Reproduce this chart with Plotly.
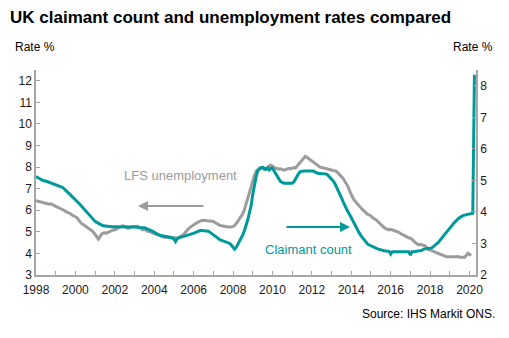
import plotly.graph_objects as go

# Monthly values, January 1998 onwards
start_year = 1998

# LFS unemployment rate (%), left axis
lfs_rate = [
    6.44, 6.42, 6.40, 6.38, 6.36, 6.35, 6.33, 6.30, 6.28, 6.30, 6.25, 6.22,  # 1998
    6.18, 6.15, 6.12, 6.08, 6.04, 6.00, 5.95, 5.92, 5.88, 5.84, 5.78, 5.74,  # 1999
    5.71, 5.65, 5.55, 5.45, 5.36, 5.33, 5.28, 5.22, 5.15, 5.09, 5.05, 4.98,  # 2000
    4.88, 4.75, 4.66, 4.78, 4.90, 4.94, 4.96, 4.94, 4.98, 5.02, 5.05, 5.09,  # 2001
    5.09, 5.14, 5.18, 5.22, 5.26, 5.28, 5.24, 5.20, 5.17, 5.18, 5.22, 5.25,  # 2002
    5.25, 5.22, 5.26, 5.20, 5.15, 5.09, 5.12, 5.06, 5.02, 5.01, 4.98, 4.96,  # 2003
    4.92, 4.88, 4.86, 4.82, 4.80, 4.76, 4.75, 4.74, 4.76, 4.73, 4.72, 4.70,  # 2004
    4.71, 4.72, 4.70, 4.74, 4.78, 4.81, 4.88, 4.98, 5.09, 5.15, 5.22, 5.28,  # 2005
    5.33, 5.38, 5.42, 5.46, 5.50, 5.53, 5.54, 5.53, 5.55, 5.54, 5.53, 5.52,  # 2006
    5.48, 5.43, 5.38, 5.34, 5.30, 5.28, 5.26, 5.24, 5.23, 5.22, 5.22, 5.22,  # 2007
    5.24, 5.30, 5.38, 5.50, 5.62, 5.71, 5.85, 6.05, 6.33, 6.60, 6.85, 7.11,  # 2008
    7.35, 7.60, 7.80, 7.90, 7.96, 7.98, 7.92, 7.88, 7.90, 7.95, 8.05, 8.09,  # 2009
    8.05, 7.98, 7.93, 7.93, 7.90, 7.92, 7.88, 7.86, 7.88, 7.90, 7.94, 7.92,  # 2010
    7.96, 7.98, 7.96, 8.05, 8.15, 8.27, 8.35, 8.45, 8.50, 8.46, 8.40, 8.35,  # 2011
    8.27, 8.22, 8.16, 8.10, 8.04, 8.00, 7.98, 7.96, 7.96, 7.94, 7.92, 7.90,  # 2012
    7.88, 7.86, 7.84, 7.80, 7.72, 7.65, 7.58, 7.48, 7.36, 7.24, 7.10, 6.90,  # 2013
    6.70, 6.57, 6.45, 6.35, 6.26, 6.18, 6.10, 6.02, 5.94, 5.87, 5.81, 5.79,  # 2014
    5.72, 5.65, 5.60, 5.56, 5.48, 5.40, 5.32, 5.25, 5.20, 5.15, 5.10, 5.09,  # 2015
    5.12, 5.09, 5.08, 5.05, 5.02, 4.98, 4.92, 4.89, 4.85, 4.80, 4.76, 4.71,  # 2016
    4.71, 4.66, 4.58, 4.50, 4.45, 4.40, 4.42, 4.40, 4.38, 4.35, 4.26, 4.18,  # 2017
    4.16, 4.14, 4.10, 4.06, 4.03, 4.01, 3.98, 3.95, 3.90, 3.87, 3.85, 3.85,  # 2018
    3.84, 3.86, 3.85, 3.84, 3.85, 3.86, 3.82, 3.81, 3.83, 3.82, 3.90, 4.01,  # 2019
    3.96, 3.90,                                                              # 2020
]

# Claimant count rate (%), right axis
claimant_rate = [
    5.12, 5.10, 5.06, 5.03, 5.00, 4.98, 4.98, 4.96, 4.95, 4.93, 4.91, 4.90,  # 1998
    4.88, 4.86, 4.83, 4.80, 4.78, 4.74, 4.70, 4.64, 4.59, 4.54, 4.48, 4.44,  # 1999
    4.38, 4.33, 4.28, 4.22, 4.17, 4.12, 4.06, 4.00, 3.93, 3.86, 3.80, 3.74,  # 2000
    3.70, 3.67, 3.63, 3.60, 3.58, 3.56, 3.55, 3.54, 3.53, 3.53, 3.53, 3.53,  # 2001
    3.53, 3.54, 3.53, 3.53, 3.54, 3.53, 3.53, 3.52, 3.53, 3.53, 3.53, 3.52,  # 2002
    3.52, 3.52, 3.51, 3.51, 3.50, 3.51, 3.50, 3.48, 3.46, 3.44, 3.42, 3.40,  # 2003
    3.36, 3.32, 3.28, 3.27, 3.25, 3.24, 3.23, 3.22, 3.21, 3.20, 3.20, 3.18,  # 2004
    3.14, 3.06, 3.15, 3.19, 3.20, 3.21, 3.22, 3.24, 3.26, 3.27, 3.29, 3.30,  # 2005
    3.32, 3.34, 3.37, 3.40, 3.41, 3.41, 3.41, 3.41, 3.41, 3.39, 3.35, 3.31,  # 2006
    3.29, 3.24, 3.19, 3.14, 3.12, 3.10, 3.08, 3.07, 3.06, 3.04, 3.00, 2.94,  # 2007
    2.88, 2.82, 2.88, 2.98, 3.06, 3.14, 3.28, 3.42, 3.56, 3.76, 3.98, 4.20,  # 2008
    4.55, 4.85, 5.10, 5.30, 5.36, 5.40, 5.42, 5.38, 5.35, 5.40, 5.33, 5.38,  # 2009
    5.39, 5.30, 5.20, 5.12, 5.04, 4.96, 4.92, 4.91, 4.91, 4.91, 4.91, 4.91,  # 2010
    4.91, 4.95, 5.05, 5.15, 5.22, 5.28, 5.30, 5.30, 5.30, 5.30, 5.30, 5.30,  # 2011
    5.30, 5.30, 5.26, 5.23, 5.22, 5.22, 5.22, 5.21, 5.20, 5.20, 5.15, 5.10,  # 2012
    5.05, 4.98, 4.90, 4.80, 4.70, 4.58, 4.45, 4.33, 4.20, 4.10, 4.00, 3.92,  # 2013
    3.82, 3.70, 3.60, 3.48, 3.40, 3.32, 3.24, 3.17, 3.10, 3.04, 2.98, 2.95,  # 2014
    2.92, 2.90, 2.87, 2.85, 2.83, 2.81, 2.80, 2.78, 2.77, 2.76, 2.75, 2.75,  # 2015
    2.66, 2.74, 2.74, 2.74, 2.74, 2.74, 2.74, 2.74, 2.74, 2.74, 2.74, 2.74,  # 2016
    2.63, 2.74, 2.74, 2.75, 2.75, 2.76, 2.76, 2.78, 2.82, 2.83, 2.84, 2.85,  # 2017
    2.85, 2.86, 2.90, 2.94, 2.97, 3.03, 3.10, 3.16, 3.22, 3.28, 3.35, 3.42,  # 2018
    3.48, 3.55, 3.62, 3.68, 3.75, 3.78, 3.82, 3.86, 3.88, 3.90, 3.91, 3.93,  # 2019
    3.93, 3.95, 3.96, 8.35,                                                  # 2020
]

x_tick_years = list(range(1998, 2021, 2))
left_ticks = list(range(3, 13))
right_ticks = list(range(2, 9))

lfs_x = [start_year + i / 12 for i in range(len(lfs_rate))]
cc_x = [start_year + i / 12 for i in range(len(claimant_rate))]

TEAL = "#00999A"
GREY = "#9C9C9C"
AXIS = "#A6A6A6"
FONT = "Liberation Sans, Arial, sans-serif"

fig = go.Figure()
fig.add_trace(go.Scatter(x=lfs_x, y=lfs_rate, mode="lines", name="LFS unemployment",
                         line=dict(color=GREY, width=3), yaxis="y"))
fig.add_trace(go.Scatter(x=cc_x, y=claimant_rate, mode="lines", name="Claimant count",
                         line=dict(color=TEAL, width=3), yaxis="y2"))

fig.update_layout(
    width=509, height=338,
    margin=dict(l=36, r=33, t=70, b=63),
    paper_bgcolor="white", plot_bgcolor="white",
    showlegend=False,
    font=dict(family=FONT, size=12, color="#1a1a1a"),
    title=dict(text="<b>UK claimant count and unemployment rates compared</b>",
               x=10 / 509, xanchor="left", xref="container",
               y=1 - 17 / 338, yanchor="middle", yref="container",
               font=dict(family=FONT, size=17, color="#000000")),
    xaxis=dict(range=[1998, 2020.33], tickvals=x_tick_years,
               ticktext=[str(v) for v in x_tick_years],
               ticks="inside", ticklen=4, tickcolor=AXIS, ticklabelstandoff=3,
               minor=dict(dtick=1, tick0=1998, ticks="inside", ticklen=4, tickcolor=AXIS),
               showline=True, linecolor=AXIS, linewidth=1.5,
               showgrid=False, zeroline=False, fixedrange=True),
    yaxis=dict(range=[3, 12.5], tickvals=left_ticks, ticks="inside", ticklen=4,
               tickcolor=AXIS, showline=True, linecolor=AXIS, linewidth=1.5,
               showgrid=False, zeroline=False),
    yaxis2=dict(range=[2, 8.5], tickvals=right_ticks, ticks="inside", ticklen=4,
                tickcolor=AXIS, overlaying="y", side="right",
                showline=True, linecolor=AXIS, linewidth=1.5,
                showgrid=False, zeroline=False),
)

plot_w = 509 - 36 - 33
plot_h = 338 - 70 - 63

def px(xp):
    return (xp - 36) / plot_w

def py(yp):
    return (275 - yp) / plot_h

annotations = [
    dict(text="Rate %", x=px(13), y=py(47), xanchor="left", yanchor="middle",
         font=dict(size=12, color="#000")),
    dict(text="Rate %", x=px(451), y=py(47), xanchor="left", yanchor="middle",
         font=dict(size=12, color="#000")),
    dict(text="Source: IHS Markit ONS.", x=px(497), y=py(314), xanchor="right",
         yanchor="middle", font=dict(size=12, color="#000")),
    dict(text="LFS unemployment", x=px(180), y=py(175), xanchor="center",
         yanchor="middle", font=dict(size=13, color=GREY)),
    dict(text="Claimant count", x=px(308), y=py(249), xanchor="center",
         yanchor="middle", font=dict(size=13, color=TEAL)),
    # arrows
    dict(text="", x=px(138), y=py(206), ax=67, ay=0, axref="pixel", ayref="pixel",
         showarrow=True, arrowhead=2, arrowsize=1, arrowwidth=2, arrowcolor=GREY),
    dict(text="", x=px(350), y=py(227), ax=-65, ay=0, axref="pixel", ayref="pixel",
         showarrow=True, arrowhead=2, arrowsize=1, arrowwidth=2, arrowcolor=TEAL),
]
for a in annotations:
    a.setdefault("showarrow", False)
    a["xref"] = "paper"
    a["yref"] = "paper"
fig.update_layout(annotations=annotations)

fig.write_html("out.html")
